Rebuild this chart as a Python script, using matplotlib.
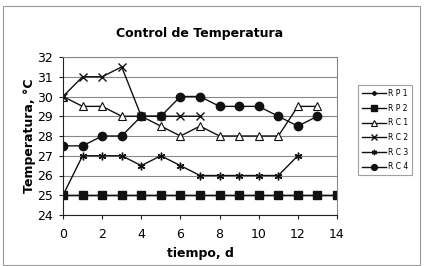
import matplotlib
matplotlib.use("Agg")
import matplotlib.pyplot as plt
from matplotlib.patches import Rectangle

days_rp = list(range(0, 15))
rp1 = [25] * 15
rp2 = [25] * 15
days_rc1 = list(range(0, 14))
rc1 = [30, 29.5, 29.5, 29, 29, 28.5, 28, 28.5, 28, 28, 28, 28, 29.5, 29.5]
days_rc2 = list(range(0, 8))
rc2 = [30, 31, 31, 31.5, 29, 29, 29, 29]
days_rc3 = list(range(0, 13))
rc3 = [25, 27, 27, 27, 26.5, 27, 26.5, 26, 26, 26, 26, 26, 27]
days_rc4 = list(range(0, 14))
rc4 = [27.5, 27.5, 28, 28, 29, 29, 30, 30, 29.5, 29.5, 29.5, 29, 28.5, 29]

labels = ["R P 1", "R P 2", "R C 1", "R C 2", "R C 3", "R C 4"]
x_ticks = [0, 2, 4, 6, 8, 10, 12, 14]
y_ticks = [24, 25, 26, 27, 28, 29, 30, 31, 32]

W, H = 424, 266
fig = plt.figure(figsize=(W / 100, H / 100), dpi=100)
fig.patch.set_facecolor("white")
fig.add_artist(Rectangle((3 / W, 1.5 / H), 417 / W, 258.5 / H, transform=fig.transFigure,
                         fill=False, edgecolor="#999999", linewidth=0.8))

L, R, T, B = 63, 337, 57, 215
ax = fig.add_axes([L / W, 1 - B / H, (R - L) / W, (B - T) / H])

c = "#111111"
ax.plot(days_rp, rp1, color=c, lw=1, marker="D", ms=3, label=labels[0])
ax.plot(days_rp, rp2, color=c, lw=1, marker="s", ms=5.5, label=labels[1])
ax.plot(days_rc1, rc1, color=c, lw=1, marker="^", ms=6, mfc="white", mec=c, mew=0.8, label=labels[2])
ax.plot(days_rc2, rc2, color=c, lw=1, marker="x", ms=5.5, mew=1, label=labels[3])
ax.plot(days_rc3, rc3, color=c, lw=1, marker=(6, 2, 0), ms=5.5, mew=1, label=labels[4])
ax.plot(days_rc4, rc4, color=c, lw=1, marker="o", ms=6, label=labels[5])

ax.set_xlim(0, 14)
ax.set_ylim(24, 32)
ax.set_xticks(x_ticks)
ax.set_yticks(y_ticks)
ax.yaxis.grid(True, color="#888888", lw=0.8)
ax.set_axisbelow(True)
for s in ax.spines.values():
    s.set_color("#888888")
    s.set_linewidth(0.8)
ax.spines["left"].set_color("#222222")
ax.spines["bottom"].set_color("#222222")
ax.tick_params(axis="both", labelsize=9, length=3, width=0.8, color="#222222")
ax.tick_params(axis="x", pad=6)
ax.tick_params(axis="y", pad=4)
ax.set_xlabel("tiempo, d", fontsize=9, fontweight="bold", labelpad=5)
ax.set_ylabel("Temperatura, °C", fontsize=9, fontweight="bold", labelpad=1)
fig.text((L + R) / 2 / W, 1 - 33 / H, "Control de Temperatura", ha="center", va="center",
         fontsize=9, fontweight="bold")

leg = ax.legend(loc="upper left", bbox_to_anchor=((358 - L) / (R - L), 1 - (85 - T) / (B - T)),
                borderaxespad=0, fontsize=5.5, frameon=True, fancybox=False, edgecolor="#888888",
                handlelength=3.2, handletextpad=0.2, labelspacing=0.75, borderpad=0.5,
                markerscale=0.7)
leg.get_frame().set_linewidth(0.8)

fig.savefig("out.png", dpi=100)
